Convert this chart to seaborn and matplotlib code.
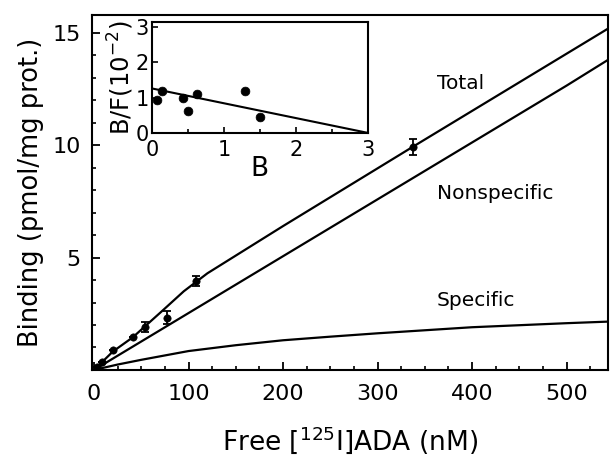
import matplotlib
matplotlib.use("Agg")
import matplotlib.pyplot as plt
import seaborn as sns
import numpy as np
from matplotlib.ticker import MultipleLocator

# saturation binding
free_nm = [3, 8, 20, 41, 54, 77, 108, 337]
bound = [0.15, 0.37, 0.87, 1.45, 1.92, 2.32, 3.95, 9.92]
bound_err = [0, 0, 0, 0, 0.21, 0.29, 0.23, 0.37]

total_x = [0, 20, 41, 72, 95, 120, 200, 337, 544]
total_y = [0, 0.82, 1.45, 2.62, 3.5, 4.3, 6.4, 9.92, 15.19]

nonspec_x = [0, 100, 200, 300, 400, 500, 544]
nonspec_y = [0, 2.53, 5.06, 7.59, 10.12, 12.65, 13.8]

spec_x = [0, 25, 50, 100, 150, 200, 250, 300, 400, 500, 544]
spec_y = [0, 0.24, 0.45, 0.84, 1.1, 1.32, 1.48, 1.63, 1.9, 2.08, 2.15]

curve_labels = ['Total', 'Nonspecific', 'Specific']
label_y = [12.75, 7.87, 3.07]

# Scatchard inset
scat_b = [0.065, 0.14, 0.43, 0.50, 0.62, 1.30, 1.50]
scat_bf = [0.93, 1.2, 0.98, 0.61, 1.10, 1.18, 0.45]
fit_b = [0, 3]
fit_bf = [1.26, 0]

sns.set_style("ticks")
plt.rcParams['font.family'] = ['DejaVu Sans']
plt.rcParams['text.color'] = 'black'
plt.rcParams['axes.labelcolor'] = 'black'
plt.rcParams['xtick.color'] = 'black'
plt.rcParams['ytick.color'] = 'black'
plt.rcParams['axes.edgecolor'] = 'black'
plt.rcParams['xtick.direction'] = 'in'
plt.rcParams['ytick.direction'] = 'in'
plt.rcParams['axes.linewidth'] = 1.5

fig = plt.figure(figsize=(6.1, 4.63), dpi=100)
ax = fig.add_axes([0.151, 0.201, 0.846, 0.767])

sns.lineplot(x=total_x, y=total_y, color='black', lw=1.6, ax=ax)
sns.lineplot(x=nonspec_x, y=nonspec_y, color='black', lw=1.6, ax=ax)
sns.lineplot(x=spec_x, y=spec_y, color='black', lw=1.6, ax=ax)
ax.errorbar(free_nm, bound, yerr=bound_err, fmt='none', ecolor='black',
            elinewidth=1.3, capsize=3, capthick=1.3)
sns.scatterplot(x=free_nm, y=bound, color='black', s=28, edgecolor='black', ax=ax)

for txt, yy in zip(curve_labels, label_y):
    ax.text(363, yy, txt, fontsize=14.5, ha='left', va='center')

ax.set_xlim(-2, 544)
ax.set_ylim(0, 15.8)
ax.xaxis.set_major_locator(MultipleLocator(100))
ax.xaxis.set_minor_locator(MultipleLocator(25))
ax.yaxis.set_major_locator(MultipleLocator(5))
ax.yaxis.set_minor_locator(MultipleLocator(1))
ax.set_yticks([5, 10, 15])
ax.tick_params(which='major', length=6, width=1.3, labelsize=16)
ax.tick_params(axis='x', which='major', pad=10)
ax.tick_params(axis='y', which='major', pad=8)
ax.tick_params(which='minor', length=3, width=1.2)
ax.set_xlabel('Free [$^{125}$I]ADA (nM)', fontsize=19, labelpad=15)
ax.set_ylabel('Binding (pmol/mg prot.)', fontsize=18.5, labelpad=6)

ins = fig.add_axes([0.249, 0.713, 0.354, 0.240])
sns.lineplot(x=fit_b, y=fit_bf, color='black', lw=1.5, ax=ins)
sns.scatterplot(x=scat_b, y=scat_bf, color='black', s=40, edgecolor='black', ax=ins)
ins.set_xlim(0, 3)
ins.set_ylim(0, 3.15)
ins.set_xticks([0, 1, 2, 3])
ins.xaxis.set_minor_locator(MultipleLocator(0.5))
ins.set_yticks([0, 1, 2, 3])
ins.tick_params(which='major', length=4, width=1.2, labelsize=15, pad=2)
ins.tick_params(axis='x', which='major', pad=5)
ins.tick_params(which='minor', length=3, width=1.2)
ins.set_xlabel('B', fontsize=19, labelpad=-3)
ins.set_ylabel('B/F(10$^{-2}$)', fontsize=17.5, labelpad=0)

fig.savefig('out.png', dpi=100)
